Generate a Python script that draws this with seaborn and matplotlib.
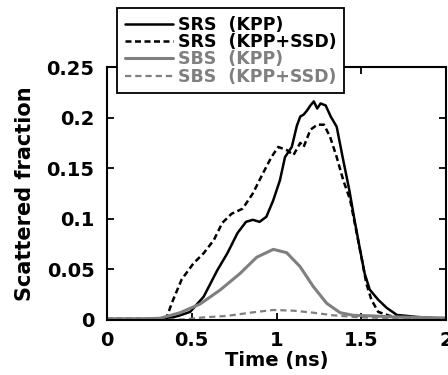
import matplotlib
matplotlib.use('Agg')
import matplotlib.pyplot as plt
import seaborn as sns

# Données
srs_kpp_t = [0, 0.2, 0.35, 0.37, 0.42, 0.49, 0.57, 0.65, 0.71, 0.77,
             0.82, 0.86, 0.90, 0.94, 0.98, 1.02, 1.05, 1.09, 1.12, 1.14,
             1.16, 1.18, 1.20, 1.22, 1.24, 1.26, 1.29, 1.32, 1.355, 1.39,
             1.43, 1.46, 1.49, 1.52, 1.55, 1.60, 1.65, 1.71, 1.83, 2.0]
srs_kpp = [0.001, 0.001, 0.001, 0.002, 0.004, 0.008, 0.023, 0.049, 0.066, 0.086,
           0.097, 0.099, 0.097, 0.102, 0.118, 0.138, 0.161, 0.171, 0.192, 0.201,
           0.203, 0.207, 0.212, 0.216, 0.209, 0.214, 0.212, 0.201, 0.191, 0.161,
           0.128, 0.099, 0.072, 0.046, 0.030, 0.020, 0.012, 0.005, 0.003, 0.001]

srs_ssd_t = [0, 0.2, 0.33, 0.352, 0.39, 0.44, 0.51, 0.57, 0.63, 0.68,
             0.735, 0.80, 0.86, 0.92, 0.97, 1.01, 1.06, 1.10, 1.14, 1.16,
             1.20, 1.24, 1.28, 1.316, 1.355, 1.394, 1.434, 1.473, 1.50, 1.53,
             1.56, 1.60, 1.67, 1.8, 2.0]
srs_ssd = [0.001, 0.001, 0.001, 0.003, 0.020, 0.040, 0.056, 0.066, 0.079, 0.096,
           0.105, 0.110, 0.125, 0.145, 0.161, 0.171, 0.168, 0.163, 0.175, 0.171,
           0.188, 0.193, 0.193, 0.181, 0.161, 0.138, 0.119, 0.086, 0.063, 0.036,
           0.020, 0.008, 0.004, 0.002, 0.001]

sbs_kpp_t = [0, 0.2, 0.313, 0.431, 0.549, 0.667, 0.785, 0.883, 0.981, 1.06,
             1.139, 1.217, 1.296, 1.375, 1.453, 1.571, 1.7, 2.0]
sbs_kpp = [0.001, 0.001, 0.0017, 0.0072, 0.0158, 0.0296, 0.046, 0.062, 0.0698, 0.0665,
           0.0527, 0.033, 0.0165, 0.0072, 0.0046, 0.004, 0.003, 0.002]

sbs_ssd_t = [0, 0.45, 0.57, 0.707, 0.844, 0.98, 1.10, 1.217, 1.336, 1.49, 2.0]
sbs_ssd = [0.0005, 0.0005, 0.0026, 0.004, 0.0072, 0.0099, 0.0092, 0.0072, 0.0046, 0.0026, 0.001]

labels = ['SRS  (KPP)', 'SRS  (KPP+SSD)', 'SBS  (KPP)', 'SBS  (KPP+SSD)']
gris = '#7f7f7f'

sns.set_style('ticks')
plt.rcParams['font.family'] = ['DejaVu Sans']
plt.rcParams['font.weight'] = 'bold'
for k in ['text.color', 'axes.labelcolor', 'xtick.color', 'ytick.color', 'axes.edgecolor']:
    plt.rcParams[k] = 'black'

fig = plt.figure(figsize=(4.48, 3.75), dpi=100)
ax = fig.add_axes([0.239, 0.1467, 0.7565, 0.6746])

sns.lineplot(x=srs_kpp_t, y=srs_kpp, ax=ax, color='black', lw=1.8, label=labels[0])
sns.lineplot(x=srs_ssd_t, y=srs_ssd, ax=ax, color='black', lw=1.8, label=labels[1])
sns.lineplot(x=sbs_kpp_t, y=sbs_kpp, ax=ax, color=gris, lw=2.2, label=labels[2])
sns.lineplot(x=sbs_ssd_t, y=sbs_ssd, ax=ax, color=gris, lw=1.6, label=labels[3])
ax.lines[1].set_dashes([2.4, 1.4])
ax.lines[3].set_dashes([2.8, 1.8])

ax.set_xlim(0, 2)
ax.set_ylim(0, 0.25)
ax.set_xticks([0, 0.5, 1, 1.5, 2])
ax.set_xticklabels(['0', '0.5', '1', '1.5', '2'])
ax.set_yticks([0, 0.05, 0.1, 0.15, 0.2, 0.25])
ax.set_yticklabels(['0', '0.05', '0.1', '0.15', '0.2', '0.25'])
ax.tick_params(direction='in', length=5, width=1.3, top=True, right=True, labelsize=14)
ax.tick_params(axis='x', pad=8)
ax.tick_params(axis='y', pad=9)
for s in ax.spines.values():
    s.set_linewidth(1.5)
    s.set_visible(True)

ax.set_xlabel('Time (ns)', fontsize=14, fontweight='bold', labelpad=1)
ax.set_ylabel('Scattered fraction', fontsize=15, fontweight='bold', labelpad=8)

leg = ax.legend(loc='upper left', bbox_to_anchor=(0.261, 0.979),
                bbox_transform=fig.transFigure, fontsize=12.5, frameon=True,
                fancybox=False, edgecolor='black', framealpha=1,
                handlelength=2.8, handletextpad=0.25, labelspacing=-0.04,
                borderpad=0.45, borderaxespad=0)
leg.get_frame().set_linewidth(1.3)
for txt, c in zip(leg.get_texts(), ['black', 'black', gris, gris]):
    txt.set_color(c)

fig.savefig('out.png', dpi=100)
